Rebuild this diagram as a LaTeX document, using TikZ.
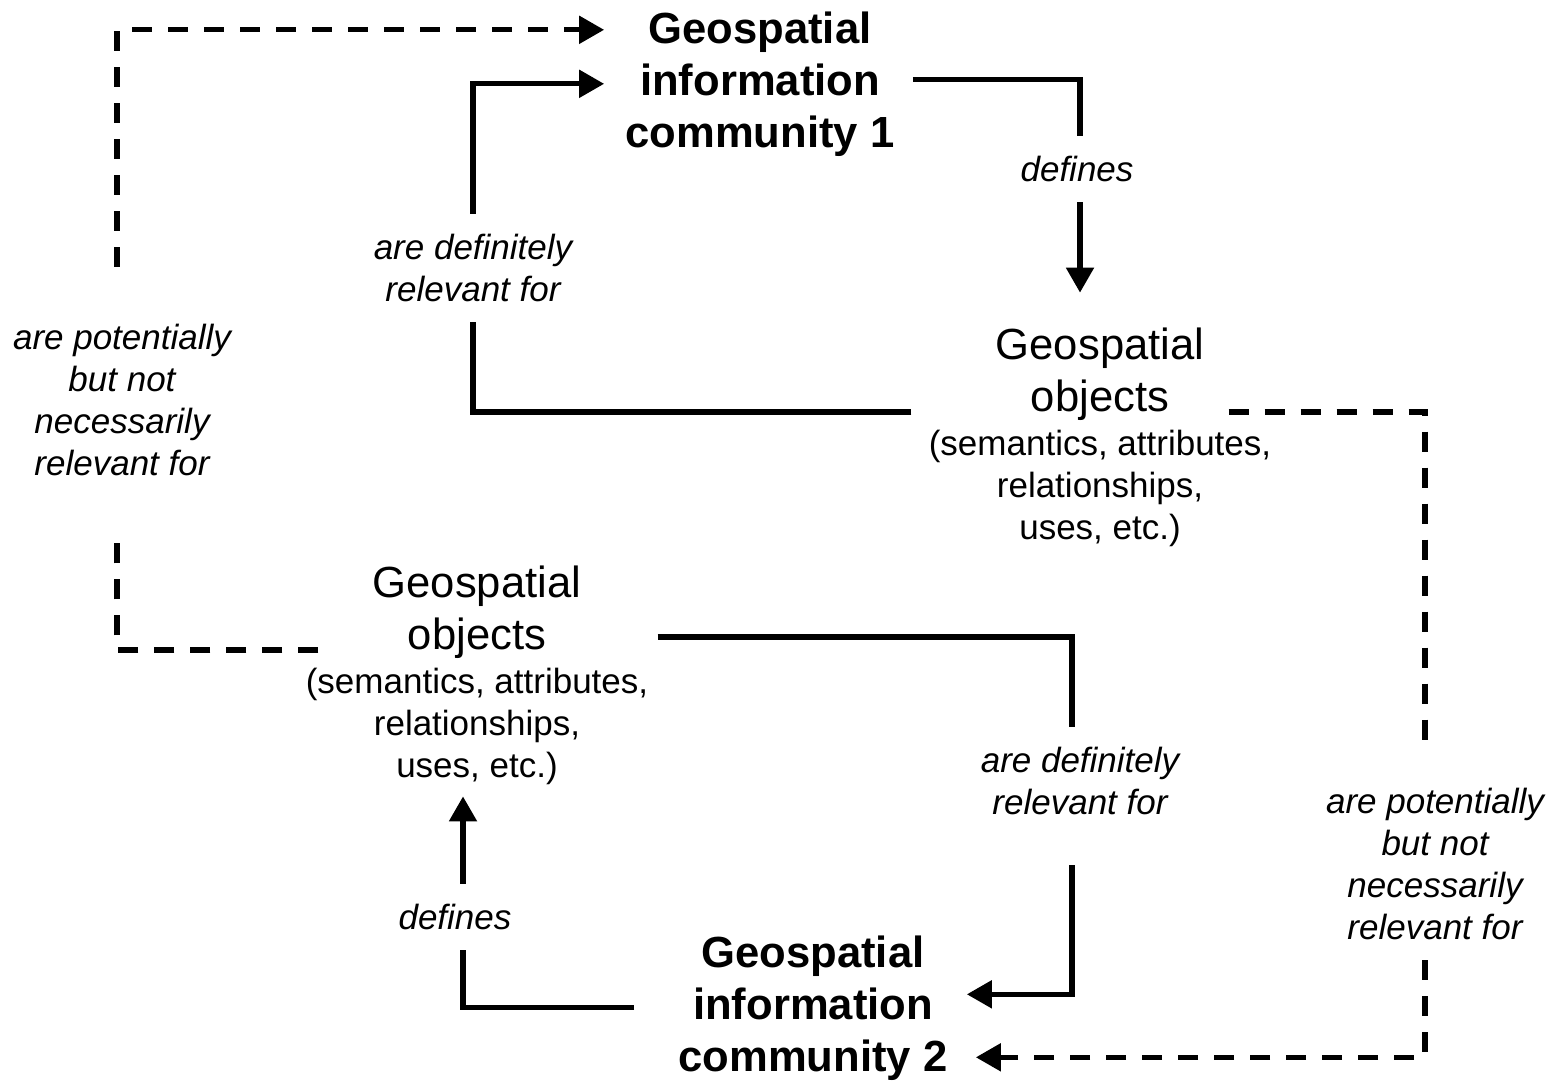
\documentclass[tikz,border=0pt]{standalone}
\usepackage{fontspec}
\setmainfont{Liberation Sans}
\usetikzlibrary{arrows.meta,positioning,calc}

\begin{document}
\begin{tikzpicture}[x=0.5pt,y=-0.5pt,
    community/.style={align=center,inner sep=0pt,text depth=0pt,anchor=south,
      font=\fontsize{21.8}{26}\selectfont\bfseries},
    objtitle/.style={align=center,inner sep=0pt,text depth=0pt,anchor=south,
      font=\fontsize{21.8}{26}\selectfont},
    objdetail/.style={align=center,inner sep=0pt,
      font=\fontsize{17.5}{21}\selectfont},
    rel/.style={align=center,inner xsep=0pt,inner ysep=10pt,
      font=\fontsize{17.5}{21}\selectfont\itshape},
    solidlink/.style={line width=2.6pt},
    dashlink/.style={line width=2.6pt,dash pattern=on 10pt off 8pt},
    arrowhead/.style={-{Triangle[length=12.5pt,width=13.5pt]}}]
  \useasboundingbox (0,0) rectangle (1556,1082);

  % communities and their objects
  \node[community] (gic1) at (760,148) {Geospatial\\information\\community 1};
  \node[community] (gic2) at (813,1072) {Geospatial\\information\\community 2};
  \node[objtitle] (obj1) at (1100,412) {Geospatial\\objects};
  \node[objdetail,below=9pt of obj1] (obj1d) {(semantics, attributes,\\relationships,\\uses, etc.)};
  \node[objtitle] (obj2) at (477,650) {Geospatial\\objects};
  \node[objdetail,below=9pt of obj2] (obj2d) {(semantics, attributes,\\relationships,\\uses, etc.)};

  % relation labels
  \node[rel] (def1) at (1077,169) {defines};
  \node[rel] (rel1) at (473,268) {are definitely\\relevant for};
  \node[rel] (lp1) at (122,400) {are potentially\\but not\\necessarily\\relevant for};
  \node[rel] (lp2) at (1435,864) {are potentially\\but not\\necessarily\\relevant for};
  \node[rel] (rel2) at (1080,781) {are definitely\\relevant for};
  \node[rel] (def2) at (455,917) {defines};

  % community 1 defines its objects
  \draw[solidlink] ($(gic1.east)+(18,0)$) -| ([xshift=1.5pt]def1.north);
  \draw[solidlink,arrowhead,shorten >=17.5pt] ([xshift=1.5pt]def1.south) -- ([xshift=1.5pt]def1.south |- obj1.north);

  % definitely relevant
  \draw[solidlink] ($(obj1.south west)+(-84,0)$) -| (rel1.south);
  \draw[solidlink,arrowhead] (rel1.north) |- ($(gic1.west)+(-21,4)$);
  \draw[solidlink] ($(obj2.south east)+(76,-13)$) -| ([xshift=-4pt]rel2.north);
  \draw[solidlink,arrowhead,shorten <=15pt] ([xshift=-4pt]rel2.south) |- ($(gic2.east)+(19,-9.5)$);

  % potentially relevant
  \draw[dashlink,shorten >=22pt] ($(obj2.south west)+(-54,0)$) -| ([xshift=-2.5pt]lp1.south);
  \draw[dashlink,arrowhead,shorten <=18.5pt] ([xshift=-2.5pt]lp1.north) |- ($(gic1.west)+(-21,-50)$);
  \draw[dashlink,shorten >=11pt] ($(obj1.south east)+(24,0)$) -| ([xshift=-5pt]lp2.north);
  \draw[dashlink,arrowhead] ([xshift=-5pt]lp2.south) |- ($(gic2.east)+(28,53.5)$);

  % community 2 defines its objects
  \draw[solidlink] ($(gic2.west)+(-44,3.5)$) -| ([xshift=4pt]def2.south);
  \draw[solidlink,arrowhead,shorten >=5.5pt] ([xshift=4pt]def2.north) -- ([xshift=4pt]def2.north |- obj2d.south);
\end{tikzpicture}
\end{document}
